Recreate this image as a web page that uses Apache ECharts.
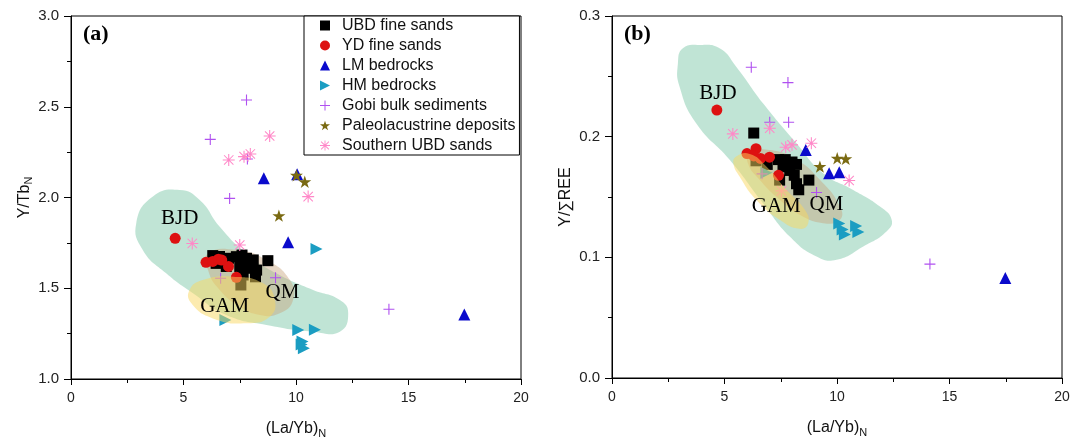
<!DOCTYPE html>
<html><head><meta charset="utf-8">
<script src="https://cdn.jsdelivr.net/npm/echarts@6/dist/echarts.min.js"></script>
<style>html,body{margin:0;padding:0;background:#fff}#c{width:1072px;height:438px}</style>
</head><body><div id="c"></div>
<script>
// ---------- data ----------
const seriesNames = ['UBD fine sands','YD fine sands','LM bedrocks','HM bedrocks','Gobi bulk sediments','Paleolacustrine deposits','Southern UBD sands'];

// Panel (a): Y/Tb_N vs (La/Yb)_N
const ubdA_x = [6.3,6.6,7.0,7.35,7.6,7.8,8.1,6.45,6.9,7.5,7.8,8.25,8.2,7.65,7.55,8.75];
const ubdA_y = [1.68,1.675,1.665,1.674,1.683,1.665,1.656,1.637,1.62,1.62,1.61,1.60,1.563,1.573,1.518,1.652];
const ydA_x = [4.63,6.0,6.3,6.55,6.7,7.0,7.35];
const ydA_y = [1.775,1.643,1.648,1.66,1.655,1.62,1.56];
const lmA_x = [8.57,10.05,9.65,17.48];
const lmA_y = [2.106,2.128,1.753,1.356];
const hmA_x = [10.91,6.86,10.1,10.84,10.29,10.35,10.25];
const hmA_y = [1.716,1.325,1.27,1.272,1.206,1.169,1.19];
const gobiA_x = [7.8,6.19,7.84,7.05,6.65,9.09,14.13];
const gobiA_y = [2.537,2.32,2.212,1.995,1.555,1.558,1.384];
const paleoA_x = [10.02,10.39,9.24];
const paleoA_y = [2.122,2.087,1.9];
const southA_x = [8.83,7.01,7.69,7.97,10.54,5.39,7.5];
const southA_y = [2.339,2.207,2.225,2.24,2.005,1.747,1.738];

// Panel (b): Y/ΣREE vs (La/Yb)_N
const ubdB_x = [6.3,6.4,6.9,7.4,7.7,8.0,8.2,7.6,7.9,7.45,8.2,8.3,8.75,8.1];
const ubdB_y = [0.203,0.18,0.177,0.181,0.181,0.179,0.177,0.175,0.172,0.164,0.161,0.156,0.164,0.168];
const ydB_x = [4.66,6.0,6.4,6.6,7.0,7.4,6.3];
const ydB_y = [0.222,0.186,0.19,0.182,0.183,0.168,0.184];
const lmB_x = [8.61,10.1,9.65,17.48];
const lmB_y = [0.189,0.1705,0.1697,0.0828];
const hmB_x = [6.86,10.1,10.25,10.35,10.85,10.95];
const hmB_y = [0.17,0.128,0.123,0.119,0.126,0.121];
const gobiB_x = [6.19,7.82,7.85,7.01,6.67,9.09,14.13];
const gobiB_y = [0.2575,0.2448,0.212,0.212,0.1692,0.1537,0.0944];
const paleoB_x = [9.24,10.01,10.39];
const paleoB_y = [0.1752,0.1821,0.1816];
const southB_x = [5.37,7.01,7.72,8.0,8.86,10.54,7.53];
const southB_y = [0.2023,0.207,0.1912,0.1932,0.1946,0.1637,0.1551];

// Source-region outlines (data coordinates)
const bjdA = [[4.83,2.041],[3.64,2.005],[2.9,1.858],[3.19,1.711],[4.23,1.582],[5.42,1.472],[6.9,1.353],[8.69,1.298],[10.76,1.261],[11.95,1.261],[12.32,1.362],[11.95,1.435],[10.76,1.49],[9.13,1.582],[7.8,1.692],[6.61,1.839],[5.72,1.986]];
const qmA = [[6.09,1.692],[7.35,1.711],[8.69,1.656],[9.73,1.545],[9.87,1.435],[9.28,1.362],[8.39,1.353],[7.5,1.399],[6.61,1.49],[6.09,1.6]];
const gamA = [[5.27,1.49],[5.86,1.545],[7.2,1.564],[8.54,1.527],[9.06,1.435],[8.83,1.343],[7.8,1.307],[6.31,1.334],[5.35,1.417]];
const bjdB = [[3.89,0.276],[3.15,0.2732],[2.93,0.2608],[3.0,0.2415],[3.74,0.2111],[5.23,0.1808],[6.71,0.1449],[7.9,0.1173],[9.09,0.1007],[9.98,0.098],[11.17,0.109],[12.2,0.1214],[12.43,0.1311],[11.91,0.1421],[10.72,0.1559],[9.38,0.1697],[8.2,0.1946],[6.71,0.2277],[5.52,0.258],[4.78,0.2732]];
const qmB = [[6.12,0.1863],[7.01,0.189],[8.2,0.1808],[9.24,0.1642],[10.13,0.1421],[10.13,0.1311],[9.38,0.1283],[8.34,0.1352],[7.45,0.1477],[6.56,0.1642],[6.04,0.178]];
const gamB = [[5.52,0.1835],[6.12,0.1857],[6.86,0.1753],[7.75,0.156],[8.57,0.1394],[8.72,0.1283],[8.34,0.1236],[7.45,0.1311],[6.41,0.1477],[5.67,0.167],[5.4,0.1775]];

const regionLabelsA = [['BJD',4.83,1.885],['GAM',6.83,1.40],['QM',9.4,1.476]];
const regionLabelsB = [['BJD',4.71,0.236],['GAM',7.3,0.142],['QM',9.53,0.1435]];

// ---------- styling ----------
const colors = ['#000000','#dd1111','#0a0acc','#1b9dc2','#b050f0','#7a6a12','#ff88c8'];
const PLUS = 'path://M4.5,0h1v4.5h4.5v1h-4.5v4.5h-1v-4.5h-4.5v-1h4.5z';
const STAR = 'path://M5,0L6.18,3.6L10,3.6L6.9,5.9L8.1,9.5L5,7.3L1.9,9.5L3.1,5.9L0,3.6L3.82,3.6Z';
const AST = 'path://M0,4.55h10v0.9h-10zM4.55,0h0.9v10h-0.9zM1.4,0.8L9.2,8.6L8.6,9.2L0.8,1.4zM8.6,0.8L9.2,1.4L1.4,9.2L0.8,8.6z';
const RTRI = 'path://M0,0L10,5L0,10Z';
const symbols = ['rect','circle','triangle',RTRI,PLUS,STAR,AST];
const sizes = [11,11,12,12,11,13,12];

const zip = (xs, ys) => xs.map((x, i) => [x, ys[i]]);
const groupsA = [[ubdA_x,ubdA_y],[ydA_x,ydA_y],[lmA_x,lmA_y],[hmA_x,hmA_y],[gobiA_x,gobiA_y],[paleoA_x,paleoA_y],[southA_x,southA_y]];
const groupsB = [[ubdB_x,ubdB_y],[ydB_x,ydB_y],[lmB_x,lmB_y],[hmB_x,hmB_y],[gobiB_x,gobiB_y],[paleoB_x,paleoB_y],[southB_x,southB_y]];

const series = [];
function regionSeries(pts, fill, gi, z) {
  return {
    type: 'custom', xAxisIndex: gi, yAxisIndex: gi, z: z, silent: true,
    data: pts,
    renderItem: function (params, api) {
      if (params.dataIndex !== 0) return null;
      const P = pts.map(p => api.coord(p));
      return { type: 'polygon', shape: { points: P, smooth: 0.5 }, style: { fill: fill, stroke: null } };
    }
  };
}
const GREEN = 'rgba(140,205,178,0.55)';
const QMC = 'rgba(200,165,125,0.45)';
const GAMC = 'rgba(250,215,95,0.5)';
series.push(regionSeries(bjdA, GREEN, 0, 1));
series.push(regionSeries(qmA, QMC, 0, 1));
series.push(regionSeries(gamA, GAMC, 0, 4));
series.push(regionSeries(bjdB, GREEN, 1, 1));
series.push(regionSeries(qmB, QMC, 1, 1));
series.push(regionSeries(gamB, GAMC, 1, 4));

[groupsA, groupsB].forEach((groups, gi) => {
  groups.forEach((g, k) => {
    series.push({
      type: 'scatter', name: seriesNames[k], xAxisIndex: gi, yAxisIndex: gi, z: 3,
      symbol: symbols[k], symbolSize: sizes[k], symbolKeepAspect: true,
      itemStyle: { color: colors[k], opacity: 1 },
      data: zip(g[0], g[1])
    });
  });
});
[regionLabelsA, regionLabelsB].forEach((labs, gi) => {
  series.push({
    type: 'custom', xAxisIndex: gi, yAxisIndex: gi, z: 6, silent: true,
    data: labs.map(l => [l[1], l[2]]),
    renderItem: function (params, api) {
      const pt = api.coord([api.value(0), api.value(1)]);
      return {
        type: 'text', x: pt[0], y: pt[1],
        style: { text: labs[params.dataIndex][0], fill: '#000', fontFamily: 'Liberation Serif', fontSize: 21, align: 'center', verticalAlign: 'middle' }
      };
    }
  });
});

function nameStyle() {
  return { fontFamily: 'Liberation Sans', fontSize: 16, color: '#111', lineHeight: 20,
    rich: { s: { fontSize: 11, verticalAlign: 'bottom', lineHeight: 12, fontFamily: 'Liberation Sans', color: '#111' } } };
}
function xAx(gi) {
  return {
    gridIndex: gi, type: 'value', min: 0, max: 20, interval: 5,
    name: '(La/Yb){s|N}', nameLocation: 'middle', nameGap: 40,
    nameTextStyle: nameStyle(),
    axisLine: { onZero: false, lineStyle: { color: '#000', width: 1 } },
    axisTick: { show: true, length: 6, lineStyle: { color: '#000' } },
    minorTick: { show: true, splitNumber: 2, length: 4, lineStyle: { color: '#000' } },
    axisLabel: { fontFamily: 'Liberation Sans', fontSize: 14, color: '#222', margin: 12 },
    splitLine: { show: false }
  };
}
function yAx(gi, min, max, interval, name) {
  return {
    gridIndex: gi, type: 'value', min: min, max: max, interval: interval,
    name: name, nameLocation: 'middle', nameGap: 33, nameRotate: 90,
    nameTextStyle: nameStyle(),
    axisLine: { onZero: false, lineStyle: { color: '#000', width: 1 } },
    axisTick: { show: true, length: 7, lineStyle: { color: '#000' } },
    minorTick: { show: true, splitNumber: 2, length: 4, lineStyle: { color: '#000' } },
    axisLabel: { fontFamily: 'Liberation Sans', fontSize: 15, color: '#222', margin: 12, formatter: v => v.toFixed(1) },
    splitLine: { show: false }
  };
}

const option = {
  backgroundColor: '#fff',
  animation: false,
  title: [
    { text: '(a)', left: 78, top: 18, textStyle: { fontFamily: 'Liberation Serif', fontWeight: 'bold', fontSize: 22, color: '#000' } },
    { text: '(b)', left: 619, top: 18, textStyle: { fontFamily: 'Liberation Serif', fontWeight: 'bold', fontSize: 22, color: '#000' } }
  ],
  legend: {
    data: seriesNames, orient: 'vertical', left: 304, top: 16,
    padding: [1, 4, 1, 16], itemWidth: 10, itemHeight: 10, itemGap: 3,
    borderColor: '#000', borderWidth: 1, backgroundColor: '#fff',
    textStyle: { fontFamily: 'Liberation Sans', fontSize: 16, color: '#111', lineHeight: 17, padding: [0, 0, 0, 7] },
    selectedMode: false
  },
  grid: [
    { left: 71, top: 16, width: 450, height: 363, show: true, borderColor: '#000', borderWidth: 1, backgroundColor: 'transparent', containLabel: false, outerBoundsMode: 'none' },
    { left: 612, top: 16, width: 450, height: 362, show: true, borderColor: '#000', borderWidth: 1, backgroundColor: 'transparent', containLabel: false, outerBoundsMode: 'none' }
  ],
  xAxis: [xAx(0), xAx(1)],
  yAxis: [yAx(0, 1.0, 3.0, 0.5, 'Y/Tb{s|N}'), yAx(1, 0.0, 0.3, 0.1, 'Y/∑REE')],
  series: series
};
const chart = echarts.init(document.getElementById('c'), null, { renderer: 'canvas' });
chart.setOption(option);
</script>
</body></html>
